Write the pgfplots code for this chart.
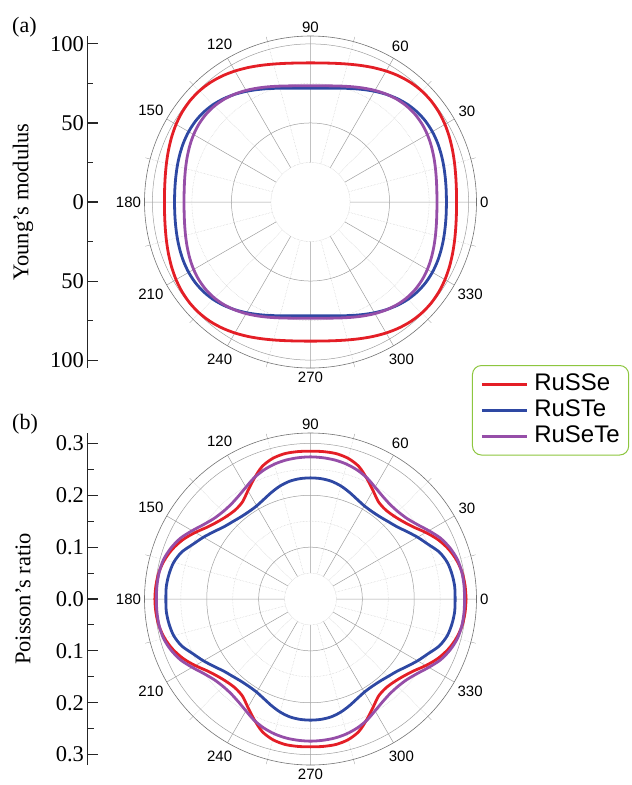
\documentclass[border=0pt]{standalone}
\usepackage{fontspec}
\setmainfont{Liberation Serif}
\setsansfont{Liberation Sans}
\usepackage{pgfplots}
\pgfplotsset{compat=1.18}
\usepgfplotslibrary{polar}
\definecolor{cRed}{RGB}{228,30,38}
\definecolor{cBlue}{RGB}{46,72,163}
\definecolor{cPurple}{RGB}{150,78,168}
\definecolor{cGreen}{RGB}{141,198,63}
\definecolor{gmaj}{RGB}{160,160,160}
\definecolor{gmin}{RGB}{205,205,205}
\pgfplotsset{
 mypolar/.style={
   scale only axis, width=332pt, height=332pt,
   xmin=0, xmax=360,
   xtick={0,30,...,330},
   minor xtick={15,45,...,345},
   grid=both,
   major grid style={draw=gmaj, line width=0.5pt},
   minor grid style={draw=gmin, line width=0.5pt, densely dotted},
   axis line style={draw=black!55, line width=0.6pt},
   y axis line style={draw=none},
   xtick style={draw=black!55},
   ytick style={draw=none},
   yticklabels={},
   minor tick length=5pt, major tick length=0pt,
   xticklabel style={font=\sffamily\fontsize{15}{15}\selectfont},
   /pgf/number format/assume math mode=true,
 },
 myscale/.style={
   scale only axis, width=5pt, height=332pt,
   xmin=0,xmax=1,
   axis x line=none, axis y line=left,
   y axis line style={-, line width=1.1pt, draw=black!85},
   tick align=inside,
   major tick length=10pt, minor tick length=6pt,
   tick style={line width=1.1pt, draw=black!85},
   yticklabel style={font=\fontsize{22.5}{22.5}\selectfont},
   ylabel style={font=\fontsize{22.5}{22.5}\selectfont, at={(axis description cs:0,0.5)}, anchor=center, rotate=0, yshift=64.5pt},
 },
 curve/.style={smooth, line width=2.8pt, no marks},
}
\begin{document}
\begin{tikzpicture}
\useasboundingbox (0,0) rectangle (632pt,-785pt);

% ---------- (a) radial scale ----------
\begin{axis}[myscale, at={(87.5pt,-368pt)}, anchor=south west,
  ymin=-105, ymax=105,
  ytick={-100,-50,0,50,100}, yticklabels={100,50,0,50,100},
  minor ytick={-75,-25,25,75},
  ylabel={Young’s modulus}]
\end{axis}

% ---------- (a) polar ----------
\begin{polaraxis}[mypolar, at={(310.5pt,-202pt)}, anchor=origin,
  ymin=0, ymax=105, ytick={50,100}, minor ytick={25,75}]
\draw[draw=gmin, densely dotted, fill=white] (axis cs:0,0) circle[radius=39.5pt];
\addplot[curve, cRed] coordinates {(0,92.40)(5,92.63)(10,93.30)(15,94.34)(20,95.61)(25,96.96)(30,98.20)(35,99.12)(40,99.56)(45,99.40)(50,98.64)(55,97.33)(60,95.66)(65,93.80)(70,91.96)(75,90.34)(80,89.07)(85,88.27)(90,88.00)
(95,88.27)(100,89.07)(105,90.34)(110,91.96)(115,93.80)(120,95.66)(125,97.33)(130,98.64)(135,99.40)(140,99.56)(145,99.12)(150,98.20)(155,96.96)(160,95.61)(165,94.34)(170,93.30)(175,92.63)(180,92.40)
(185,92.63)(190,93.30)(195,94.34)(200,95.61)(205,96.96)(210,98.20)(215,99.12)(220,99.56)(225,99.40)(230,98.64)(235,97.33)(240,95.66)(245,93.80)(250,91.96)(255,90.34)(260,89.07)(265,88.27)(270,88.00)
(275,88.27)(280,89.07)(285,90.34)(290,91.96)(295,93.80)(300,95.66)(305,97.33)(310,98.64)(315,99.40)(320,99.56)(325,99.12)(330,98.20)(335,96.96)(340,95.61)(345,94.34)(350,93.30)(355,92.63)(360,92.40)};
\addplot[curve, cBlue] coordinates {(0,86.00)(5,86.16)(10,86.60)(15,87.26)(20,87.99)(25,88.64)(30,89.00)(35,88.93)(40,88.31)(45,87.10)(50,85.35)(55,83.21)(60,80.87)(65,78.52)(70,76.36)(75,74.52)(80,73.14)(85,72.29)(90,72.00)
(95,72.29)(100,73.14)(105,74.52)(110,76.36)(115,78.52)(120,80.87)(125,83.21)(130,85.35)(135,87.10)(140,88.31)(145,88.93)(150,89.00)(155,88.64)(160,87.99)(165,87.26)(170,86.60)(175,86.16)(180,86.00)
(185,86.16)(190,86.60)(195,87.26)(200,87.99)(205,88.64)(210,89.00)(215,88.93)(220,88.31)(225,87.10)(230,85.35)(235,83.21)(240,80.87)(245,78.52)(250,76.36)(255,74.52)(260,73.14)(265,72.29)(270,72.00)
(275,72.29)(280,73.14)(285,74.52)(290,76.36)(295,78.52)(300,80.87)(305,83.21)(310,85.35)(315,87.10)(320,88.31)(325,88.93)(330,89.00)(335,88.64)(340,87.99)(345,87.26)(350,86.60)(355,86.16)(360,86.00)};
\addplot[curve, cPurple] coordinates {(0,80.00)(5,80.22)(10,80.85)(15,81.83)(20,83.01)(25,84.25)(30,85.35)(35,86.08)(40,86.29)(45,85.90)(50,84.89)(55,83.36)(60,81.50)(65,79.49)(70,77.57)(75,75.88)(80,74.59)(85,73.78)(90,73.50)
(95,73.78)(100,74.59)(105,75.88)(110,77.57)(115,79.49)(120,81.50)(125,83.36)(130,84.89)(135,85.90)(140,86.29)(145,86.08)(150,85.35)(155,84.25)(160,83.01)(165,81.83)(170,80.85)(175,80.22)(180,80.00)
(185,80.22)(190,80.85)(195,81.83)(200,83.01)(205,84.25)(210,85.35)(215,86.08)(220,86.29)(225,85.90)(230,84.89)(235,83.36)(240,81.50)(245,79.49)(250,77.57)(255,75.88)(260,74.59)(265,73.78)(270,73.50)
(275,73.78)(280,74.59)(285,75.88)(290,77.57)(295,79.49)(300,81.50)(305,83.36)(310,84.89)(315,85.90)(320,86.29)(325,86.08)(330,85.35)(335,84.25)(340,83.01)(345,81.83)(350,80.85)(355,80.22)(360,80.00)};
\end{polaraxis}

% ---------- (b) radial scale ----------
\begin{axis}[myscale, at={(87.5pt,-765pt)}, anchor=south west,
  ymin=-0.32, ymax=0.32,
  ytick={-0.3,-0.2,-0.1,0,0.1,0.2,0.3}, yticklabels={0.3,0.2,0.1,0.0,0.1,0.2,0.3},
  minor ytick={-0.25,-0.15,-0.05,0.05,0.15,0.25},
  ylabel={Poisson’s ratio}]
\end{axis}

% ---------- (b) polar ----------
\begin{polaraxis}[mypolar, at={(310.5pt,-599pt)}, anchor=origin,
  ymin=0, ymax=0.32, ytick={0.1,0.2,0.3}, minor ytick={0.05,0.15,0.25},
  legend image code/.code={\draw[#1] (0pt,0pt) -- (45pt,0pt);},
  legend style={at={(0.9864,1.2048)}, anchor=north west, draw=cGreen, line width=1pt,
    rounded corners=9pt, font=\sffamily\fontsize{24}{24}\selectfont,
    inner xsep=8pt, inner ysep=7pt,
    nodes={text height=17pt, text depth=4.5pt, inner sep=1pt},
    cells={anchor=west}, row sep=2.5pt, column sep=5pt}]
\draw[draw=gmin, densely dotted, fill=white] (axis cs:0,0) circle[radius=25.9pt];
\addplot[curve, cRed] coordinates {(0,0.3000)(5,0.2991)(10,0.2967)(15,0.2913)(20,0.2827)(25,0.2711)(30,0.2566)(35,0.2421)(40,0.2325)(45,0.2267)(50,0.2248)(55,0.2286)(60,0.2412)(65,0.2566)(70,0.2720)(75,0.2807)(80,0.2846)(85,0.2852)(90,0.2850)
(95,0.2852)(100,0.2846)(105,0.2807)(110,0.2720)(115,0.2566)(120,0.2412)(125,0.2286)(130,0.2248)(135,0.2267)(140,0.2325)(145,0.2421)(150,0.2566)(155,0.2711)(160,0.2827)(165,0.2913)(170,0.2967)(175,0.2991)(180,0.3000)
(185,0.2991)(190,0.2967)(195,0.2913)(200,0.2827)(205,0.2711)(210,0.2566)(215,0.2421)(220,0.2325)(225,0.2267)(230,0.2248)(235,0.2286)(240,0.2412)(245,0.2566)(250,0.2720)(255,0.2807)(260,0.2846)(265,0.2852)(270,0.2850)
(275,0.2852)(280,0.2846)(285,0.2807)(290,0.2720)(295,0.2566)(300,0.2412)(305,0.2286)(310,0.2248)(315,0.2267)(320,0.2325)(325,0.2421)(330,0.2566)(335,0.2711)(340,0.2827)(345,0.2913)(350,0.2967)(355,0.2991)(360,0.3000)};
\addlegendentry{RuSSe}
\addplot[curve, cBlue] coordinates {(0,0.2788)(5,0.2790)(10,0.2769)(15,0.2730)(20,0.2643)(25,0.2499)(30,0.2383)(35,0.2267)(40,0.2171)(45,0.2113)(50,0.2074)(55,0.2061)(60,0.2074)(65,0.2122)(70,0.2190)(75,0.2257)(80,0.2306)(85,0.2329)(90,0.2335)
(95,0.2329)(100,0.2306)(105,0.2257)(110,0.2190)(115,0.2122)(120,0.2074)(125,0.2061)(130,0.2074)(135,0.2113)(140,0.2171)(145,0.2267)(150,0.2383)(155,0.2499)(160,0.2643)(165,0.2730)(170,0.2769)(175,0.2790)(180,0.2788)
(185,0.2790)(190,0.2769)(195,0.2730)(200,0.2643)(205,0.2499)(210,0.2383)(215,0.2267)(220,0.2171)(225,0.2113)(230,0.2074)(235,0.2061)(240,0.2074)(245,0.2122)(250,0.2190)(255,0.2257)(260,0.2306)(265,0.2329)(270,0.2335)
(275,0.2329)(280,0.2306)(285,0.2257)(290,0.2190)(295,0.2122)(300,0.2074)(305,0.2061)(310,0.2074)(315,0.2113)(320,0.2171)(325,0.2267)(330,0.2383)(335,0.2499)(340,0.2643)(345,0.2730)(350,0.2769)(355,0.2790)(360,0.2788)};
\addlegendentry{RuSTe}
\addplot[curve, cPurple] coordinates {(0,0.2971)(5,0.2971)(10,0.2962)(15,0.2933)(20,0.2865)(25,0.2769)(30,0.2634)(35,0.2508)(40,0.2421)(45,0.2383)(50,0.2383)(55,0.2421)(60,0.2489)(65,0.2576)(70,0.2643)(75,0.2691)(80,0.2720)(85,0.2734)(90,0.2740)
(95,0.2734)(100,0.2720)(105,0.2691)(110,0.2643)(115,0.2576)(120,0.2489)(125,0.2421)(130,0.2383)(135,0.2383)(140,0.2421)(145,0.2508)(150,0.2634)(155,0.2769)(160,0.2865)(165,0.2933)(170,0.2962)(175,0.2971)(180,0.2971)
(185,0.2971)(190,0.2962)(195,0.2933)(200,0.2865)(205,0.2769)(210,0.2634)(215,0.2508)(220,0.2421)(225,0.2383)(230,0.2383)(235,0.2421)(240,0.2489)(245,0.2576)(250,0.2643)(255,0.2691)(260,0.2720)(265,0.2734)(270,0.2740)
(275,0.2734)(280,0.2720)(285,0.2691)(290,0.2643)(295,0.2576)(300,0.2489)(305,0.2421)(310,0.2383)(315,0.2383)(320,0.2421)(325,0.2508)(330,0.2634)(335,0.2769)(340,0.2865)(345,0.2933)(350,0.2962)(355,0.2971)(360,0.2971)};
\addlegendentry{RuSeTe}
\end{polaraxis}

\node[font=\fontsize{22}{22}\selectfont, anchor=west, inner sep=0pt] at (12pt,-27.5pt) {(a)};
\node[font=\fontsize{22}{22}\selectfont, anchor=west, inner sep=0pt] at (12pt,-424.5pt) {(b)};
\end{tikzpicture}
\end{document}
